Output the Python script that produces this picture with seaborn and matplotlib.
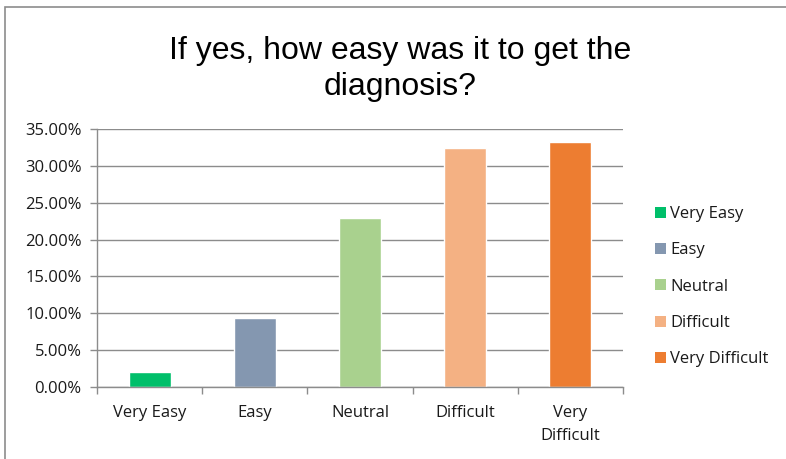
import matplotlib
matplotlib.use("Agg")
import matplotlib.pyplot as plt
import seaborn as sns
import pandas as pd
import numpy as np
from matplotlib.patches import Patch, Rectangle
from matplotlib.ticker import FuncFormatter, FixedLocator

categories = ["Very Easy", "Easy", "Neutral", "Difficult", "Very Difficult"]
tick_labels = ["Very Easy", "Easy", "Neutral", "Difficult", "Very\nDifficult"]
values = [2.0, 9.3, 22.9, 32.4, 33.2]
colors = ["#00BF6A", "#8497B0", "#A9D18E", "#F4B183", "#ED7D31"]
title = "If yes, how easy was it to get the\ndiagnosis?"

sns.set_theme(style="white")
plt.rcParams["font.family"] = ["Open Sans", "DejaVu Sans"]

df = pd.DataFrame({"cat": categories, "val": values})

fig = plt.figure(figsize=(7.86, 4.59), dpi=100)
ax = fig.add_axes([97/786, 1-387/459, (623-97)/786, (387-129)/459])

sns.barplot(data=df, x="cat", y="val", hue="cat", palette=colors,
            order=categories, hue_order=categories, dodge=False,
            width=0.4, legend=False, ax=ax, saturation=1)

ax.set_ylim(0, 35)
ax.set_xlim(-0.5, 4.5)
ax.set_yticks(np.arange(0, 36, 5))
ax.yaxis.set_major_formatter(FuncFormatter(lambda v, p: f"{v:.2f}%"))
ax.yaxis.grid(True, color="#8C8C8C", linewidth=1.0)
ax.set_axisbelow(True)
ax.set_xlabel("")
ax.set_ylabel("")

fs = 12
ax.set_xticks(range(5))
ax.set_xticklabels(tick_labels)
ax.tick_params(axis="x", which="major", length=0, pad=13, labelsize=fs, labelcolor="#1A1A1A")
ax.xaxis.set_minor_locator(FixedLocator(np.arange(-0.5, 5, 1)))
ax.tick_params(axis="x", which="minor", length=5, width=1, color="#8C8C8C", direction="out", bottom=True)
ax.tick_params(axis="y", length=5, width=1, color="#8C8C8C", direction="out", left=True,
               labelsize=fs, labelcolor="#1A1A1A", pad=6)
for lab in ax.get_xticklabels():
    lab.set_linespacing(1.55)

for s in ["top", "right"]:
    ax.spines[s].set_visible(False)
for s in ["left", "bottom"]:
    ax.spines[s].set_color("#8C8C8C")
    ax.spines[s].set_linewidth(1.0)

fig.text(400/786, 1-69/459, title, ha="center", va="center", fontsize=23,
         family=["Liberation Sans", "DejaVu Sans"], color="#000000", linespacing=1.3)

handles = [Patch(facecolor=c, edgecolor="none", label=l) for c, l in zip(colors, categories)]
fig.legend(handles=handles, loc="upper left", bbox_to_anchor=(640/786, 1-191/459),
           frameon=False, fontsize=fs, labelspacing=1.22, handlelength=0.65,
           handleheight=0.65, handletextpad=0.25, labelcolor="#1A1A1A")

fig.patches.append(Rectangle((5/786, -0.1), 1.2, 1-7/459+0.1, transform=fig.transFigure,
                             fill=False, edgecolor="#8C8C8C", linewidth=1.2))

fig.savefig("out.png", dpi=100)
